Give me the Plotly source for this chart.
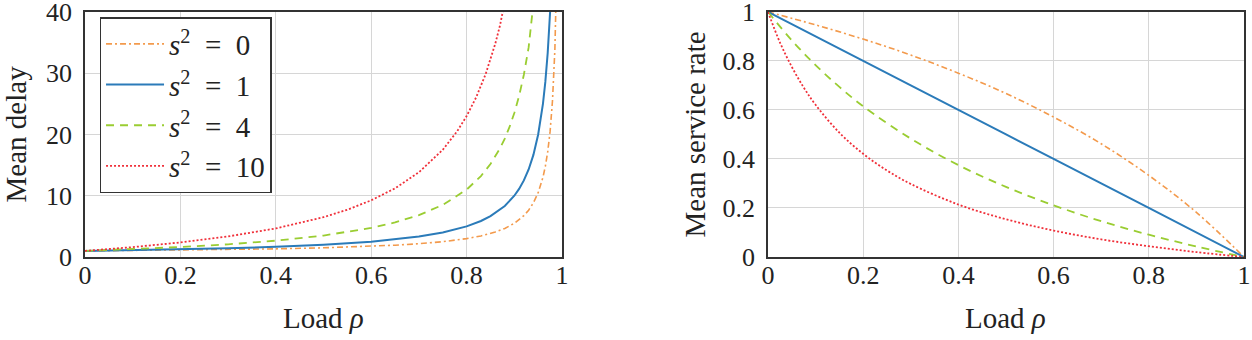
import plotly.graph_objects as go

# ---------------- data ----------------
labels = ["<i>s</i><sup>2</sup>\u2002=\u20020", "<i>s</i><sup>2</sup>\u2002=\u20021",
          "<i>s</i><sup>2</sup>\u2002=\u20024", "<i>s</i><sup>2</sup>\u2002=\u200210"]

# Left panel: mean delay vs load
d0_x = [0, 0.1, 0.2, 0.3, 0.4, 0.5, 0.6, 0.65, 0.7, 0.75, 0.8, 0.83, 0.86, 0.88, 0.9, 0.91, 0.92, 0.93, 0.94, 0.95, 0.96, 0.965, 0.97, 0.975, 0.98, 0.985, 0.99]
d0_y = [1, 1.056, 1.125, 1.214, 1.333, 1.5, 1.75, 1.93, 2.167, 2.5, 3.0, 3.44, 4.071, 4.667, 5.5, 6.056, 6.75, 7.643, 8.833, 10.5, 13.0, 14.79, 17.17, 20.5, 25.5, 33.83, 50.5]

d1_x = [0, 0.1, 0.2, 0.3, 0.4, 0.5, 0.6, 0.65, 0.7, 0.75, 0.8, 0.83, 0.85, 0.88, 0.9, 0.91, 0.92, 0.93, 0.94, 0.95, 0.96, 0.965, 0.97, 0.975, 0.98]
d1_y = [1, 1.111, 1.25, 1.429, 1.667, 2.0, 2.5, 2.857, 3.333, 4.0, 5.0, 5.88, 6.667, 8.333, 10.0, 11.11, 12.5, 14.29, 16.67, 20.0, 25.0, 28.57, 33.33, 40.0, 50.0]

d4_x = [0, 0.1, 0.2, 0.3, 0.4, 0.5, 0.6, 0.65, 0.7, 0.75, 0.8, 0.83, 0.85, 0.87, 0.88, 0.89, 0.9, 0.91, 0.92, 0.93, 0.94, 0.95]
d4_y = [1, 1.278, 1.625, 2.071, 2.667, 3.5, 4.75, 5.643, 6.833, 8.5, 11.0, 13.21, 15.17, 17.73, 19.33, 21.23, 23.5, 26.28, 29.75, 34.21, 40.17, 48.5]

d10_x = [0, 0.1, 0.2, 0.3, 0.4, 0.5, 0.55, 0.6, 0.65, 0.7, 0.75, 0.78, 0.8, 0.82, 0.84, 0.86, 0.87, 0.88, 0.89]
d10_y = [1, 1.611, 2.375, 3.357, 4.667, 6.5, 7.72, 9.25, 11.21, 13.83, 17.5, 20.5, 23.0, 26.06, 29.875, 34.79, 37.81, 41.33, 45.5]

# Right panel: mean service rate vs load
r0_x = [0, 0.1, 0.2, 0.3, 0.4, 0.5, 0.6, 0.7, 0.8, 0.9, 1.0]
r0_y = [1, 0.947, 0.889, 0.824, 0.75, 0.667, 0.571, 0.462, 0.333, 0.182, 0]

r1_x = [0, 0.2, 0.4, 0.6, 0.8, 1.0]
r1_y = [1, 0.8, 0.6, 0.4, 0.2, 0]

r4_x = [0, 0.05, 0.1, 0.15, 0.2, 0.3, 0.4, 0.5, 0.6, 0.7, 0.8, 0.9, 1.0]
r4_y = [1, 0.884, 0.783, 0.694, 0.615, 0.483, 0.375, 0.286, 0.211, 0.146, 0.091, 0.043, 0]

r10_x = [0, 0.025, 0.05, 0.075, 0.1, 0.15, 0.2, 0.25, 0.3, 0.4, 0.5, 0.6, 0.7, 0.8, 0.9, 1.0]
r10_y = [1, 0.876, 0.776, 0.692, 0.621, 0.507, 0.421, 0.353, 0.298, 0.214, 0.154, 0.108, 0.072, 0.044, 0.020, 0]

x_ticks = [0, 0.2, 0.4, 0.6, 0.8, 1]
x_ticktext = ["0", "0.2", "0.4", "0.6", "0.8", "1"]
left_yticks = [0, 10, 20, 30, 40]
right_yticks = [0, 0.2, 0.4, 0.6, 0.8, 1]
right_yticktext = ["0", "0.2", "0.4", "0.6", "0.8", "1"]

x_title = "Load <i>ρ</i>"
left_ytitle = "Mean delay"
right_ytitle = "Mean service rate"

# ---------------- styles ----------------
colors = ["#F39A4C", "#2B7BB9", "#9ACD32", "#F0303A"]
dashes = ["6px,3px,2px,3px", "solid", "8px,6px", "2px,2px"]
widths = [1.6, 2.0, 1.8, 1.8]

FONT = "Liberation Serif"
FS = 29
TFS = 26
fig = go.Figure()

left = [(d0_x, d0_y), (d1_x, d1_y), (d4_x, d4_y), (d10_x, d10_y)]
right = [(r0_x, r0_y), (r1_x, r1_y), (r4_x, r4_y), (r10_x, r10_y)]

for i, (xs, ys) in enumerate(left):
    fig.add_trace(go.Scatter(x=xs, y=ys, mode="lines", name=labels[i],
                             line=dict(color=colors[i], dash=dashes[i], width=widths[i]),
                             xaxis="x", yaxis="y", showlegend=True))
for i, (xs, ys) in enumerate(right):
    fig.add_trace(go.Scatter(x=xs, y=ys, mode="lines", name=labels[i],
                             line=dict(color=colors[i], dash=dashes[i], width=widths[i], shape="spline"),
                             xaxis="x2", yaxis="y2", showlegend=False))

axis_common = dict(showline=True, linecolor="#333333", linewidth=1.5, mirror=True,
                   showgrid=True, gridcolor="#d6d6d6", gridwidth=1, zeroline=False,
                   ticks="", ticklabeloverflow="allow", automargin=False,
                   tickfont=dict(family=FONT, size=TFS, color="#222"))

XL = [0.0679, 0.4489]
XR = [0.6134, 0.9936]
YD = [0.2441, 0.9650]

tfont = dict(family=FONT, size=FS, color="#222")
annotations = [
    dict(text=x_title, x=(XL[0] + XL[1]) / 2, y=1 - 318 / 340, xref="paper", yref="paper",
         xanchor="center", yanchor="middle", showarrow=False, font=tfont),
    dict(text=x_title, x=(XR[0] + XR[1]) / 2, y=1 - 318 / 340, xref="paper", yref="paper",
         xanchor="center", yanchor="middle", showarrow=False, font=tfont),
    dict(text=left_ytitle, x=16 / 1252, y=(YD[0] + YD[1]) / 2, xref="paper", yref="paper",
         xanchor="center", yanchor="middle", textangle=-90, showarrow=False, font=tfont),
    dict(text=right_ytitle, x=695 / 1252, y=(YD[0] + YD[1]) / 2, xref="paper", yref="paper",
         xanchor="center", yanchor="middle", textangle=-90, showarrow=False, font=tfont),
]

fig.update_layout(
    template="none",
    width=1252, height=340,
    margin=dict(l=0, r=0, t=0, b=0, autoexpand=False),
    paper_bgcolor="white", plot_bgcolor="white",
    font=dict(family=FONT, size=FS, color="#222"),
    xaxis=dict(domain=XL, range=[0, 1], tickvals=x_ticks, ticktext=x_ticktext,
               ticklabelstandoff=-6, anchor="y", **axis_common),
    yaxis=dict(domain=YD, range=[0, 40], tickvals=left_yticks,
               ticklabelstandoff=6, anchor="x", **axis_common),
    xaxis2=dict(domain=XR, range=[0, 1], tickvals=x_ticks, ticktext=x_ticktext,
                ticklabelstandoff=-6, anchor="y2", **axis_common),
    yaxis2=dict(domain=YD, range=[0, 1], tickvals=right_yticks, ticktext=right_yticktext,
                ticklabelstandoff=6, anchor="x2", **axis_common),
    legend=dict(x=0.0795, y=0.95, xanchor="left", yanchor="top",
                bgcolor="white", bordercolor="#333333", borderwidth=1.5,
                font=dict(family=FONT, size=FS, color="#222"),
                itemwidth=58, tracegroupgap=0),
    annotations=annotations,
)

fig.write_html("out.html")
